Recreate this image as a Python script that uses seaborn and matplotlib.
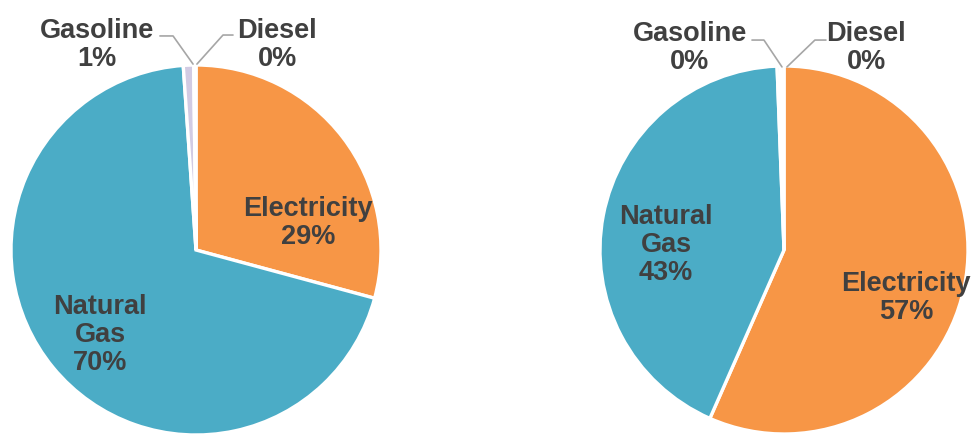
import matplotlib
matplotlib.use("Agg")
import matplotlib.pyplot as plt
import seaborn as sns

sns.set_theme(style="white")
plt.rcParams['font.family'] = ['Liberation Sans', 'DejaVu Sans']

categories = ["Electricity", "Natural Gas", "Gasoline", "Diesel"]
left_values = [29.2, 69.7, 0.9, 0.2]
right_values = [56.6, 42.8, 0.3, 0.3]
left_labels = ["Electricity\n29%", "Natural\nGas\n70%", "Gasoline\n1%", "Diesel\n0%"]
right_labels = ["Electricity\n57%", "Natural\nGas\n43%", "Gasoline\n0%", "Diesel\n0%"]

colors = ["#F79646", "#4BACC6", "#D2CBE3", "#EEF3E4"]
text_color = "#404040"
W, H = 972, 434
fig = plt.figure(figsize=(W / 100, H / 100), dpi=100)

def make_ax(cx, cy, r):
    return fig.add_axes([(cx - r) / W, (H - cy - r) / H, 2 * r / W, 2 * r / H])

def draw(ax, values, labels, pos, lead):
    ax.pie(values, colors=colors, startangle=90, counterclock=False,
           wedgeprops=dict(edgecolor="white", linewidth=2.4), radius=1)
    ax.set_xlim(-1, 1)
    ax.set_ylim(-1, 1)
    ax.set_aspect("equal")
    ax.axis("off")
    for lab, (x, y) in zip(labels, pos):
        ax.text(x, y, lab, ha="center", va="center", fontsize=19.5,
                fontweight="bold", color=text_color, linespacing=1.1,
                clip_on=False)
    for pts in lead:
        xs, ys = zip(*pts)
        ax.plot(xs, ys, color="#A6A6A6", lw=1.2, clip_on=False)

axL = make_ax(196, 250, 185)
draw(axL, left_values, left_labels,
     [(0.605, 0.146), (-0.519, -0.459), (-0.535, 1.108), (0.438, 1.108)],
     [[(-0.195, 1.157), (-0.124, 1.157), (-0.016, 1.005)],
      [(0.2, 1.162), (0.146, 1.162), (0.005, 1.005)]])

axR = make_ax(784, 250, 184)
draw(axR, right_values, right_labels,
     [(0.663, -0.261), (-0.641, 0.027), (-0.511, 1.098), (0.446, 1.098)],
     [[(-0.174, 1.141), (-0.109, 1.141), (-0.011, 0.995)],
      [(0.228, 1.141), (0.168, 1.141), (0.016, 0.995)]])

fig.savefig("out.png", dpi=100)
